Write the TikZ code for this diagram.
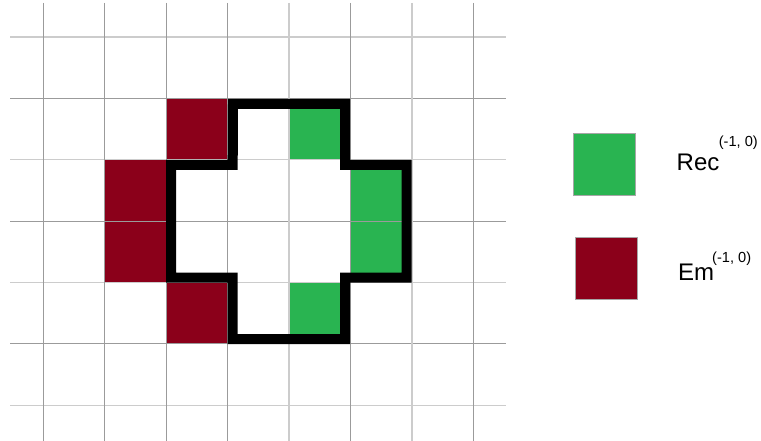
\documentclass[tikz,border=0pt]{standalone}
\usepackage{fontspec}
\setmainfont{Liberation Sans}
\definecolor{cgreen}{RGB}{41,180,81}
\definecolor{cred}{RGB}{139,0,26}
\definecolor{glight}{RGB}{204,204,204}
\definecolor{gdark}{RGB}{155,155,155}
\begin{document}
\begin{tikzpicture}[x=1pt,y=-1pt,
  greencell/.style={fill=cgreen},
  redcell/.style={fill=cred},
  lightline/.style={draw=glight,line width=1.6pt},
  darkline/.style={draw=gdark,line width=1.1pt},
  outline/.style={draw=black,line width=10pt,miter limit=10},
  legendbox/.style={draw=gray!70,line width=0.6pt},
  legendtext/.style={anchor=base west,inner sep=0pt,font=\fontsize{24}{28}\selectfont}]
\useasboundingbox (0,0) rectangle (761,441);
\def\ux{61.4}
\def\xo{43.3}
\def\yo{36.9}
% cells
\fill[redcell]   ({\xo+2*\ux},{\yo+1*\ux}) rectangle ({\xo+3*\ux},{\yo+2*\ux});
\fill[redcell]   ({\xo+1*\ux},{\yo+2*\ux}) rectangle ({\xo+2*\ux},{\yo+4*\ux});
\fill[redcell]   ({\xo+2*\ux},{\yo+4*\ux}) rectangle ({\xo+3*\ux},{\yo+5*\ux});
\fill[greencell] ({\xo+4*\ux},{\yo+1*\ux}) rectangle ({\xo+5*\ux},{\yo+2*\ux});
\fill[greencell] ({\xo+5*\ux},{\yo+2*\ux}) rectangle ({\xo+6*\ux},{\yo+4*\ux});
\fill[greencell] ({\xo+4*\ux},{\yo+4*\ux}) rectangle ({\xo+5*\ux},{\yo+5*\ux});
% grid
\foreach \k in {0,2,4,6} \draw[lightline] (10,{\yo+\k*\ux}) -- (506,{\yo+\k*\ux});
\foreach \k in {1,3,5} \draw[darkline] (10,{\yo+\k*\ux}) -- (506,{\yo+\k*\ux});
\foreach \k in {0,1,2,3,5,7} \draw[darkline] ({\xo+\k*\ux},3) -- ({\xo+\k*\ux},441);
\foreach \k in {4,6} \draw[lightline] ({\xo+\k*\ux},3) -- ({\xo+\k*\ux},441);
% outline
\draw[outline] (233,104) -- (345,104) -- (345,165) -- (406.7,165) -- (406.7,277.7)
  -- (345,277.7) -- (345,339) -- (232.7,339) -- (232.7,277.7) -- (171,277.7)
  -- (171,165) -- (232.7,165) -- cycle;
% legend
\draw[legendbox,fill=cgreen] (573,133.3) rectangle (635,195.3);
\draw[legendbox,fill=cred] (575.7,237.3) rectangle (637.3,299);
\node[legendtext] (rec) at (676.5,171) {Rec\kern-0.5pt\raisebox{24.5pt}{\fontsize{14.6}{16}\selectfont(-1, 0)}};
\node[legendtext] (em) at (678,280.7) {Em\kern-2pt\raisebox{18.5pt}{\fontsize{14.6}{16}\selectfont(-1, 0)}};
\end{tikzpicture}
\end{document}
